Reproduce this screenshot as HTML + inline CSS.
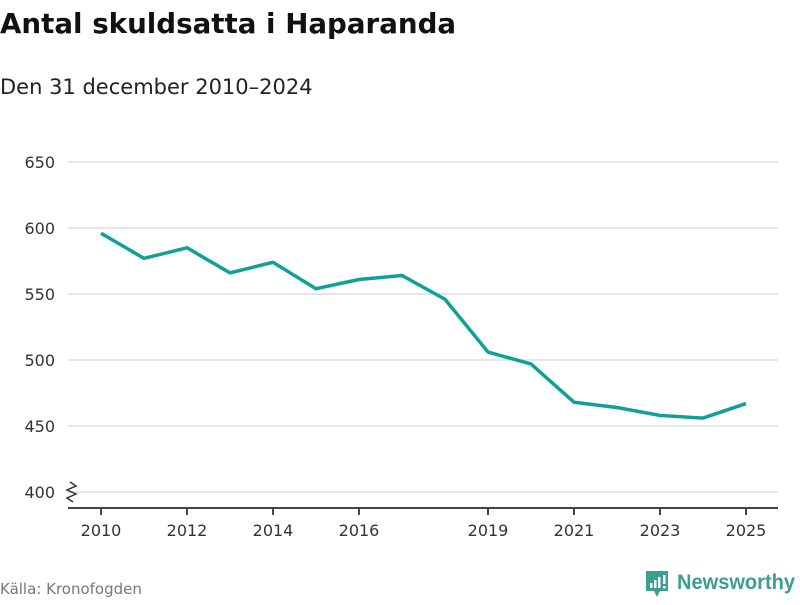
<!DOCTYPE html>
<html><head><meta charset="utf-8"><style>
body{margin:0;background:#fff;font-family:"Liberation Sans","DejaVu Sans",sans-serif;}
svg text{font-family:"DejaVu Sans","Liberation Sans",sans-serif;}
</style></head><body>
<svg id="chart" width="800" height="600">
<text x="0" y="33" font-size="27.7" font-weight="bold" fill="#111">Antal skuldsatta i Haparanda</text>
<text x="0" y="94" font-size="21" fill="#222">Den 31 december 2010–2024</text>
<g id="grid"></g><g id="xaxis"></g>
<path id="line" fill="none" stroke="#10a196" stroke-width="3.5" stroke-linejoin="round"/>
<path d="M70,482 l6,4 l-9,4 l9,4 l-9,4 l6,4" fill="none" stroke="#333" stroke-width="1.5"/>
<text x="0" y="594" font-size="15" fill="#777">Källa: Kronofogden</text>
<g>
<path d="M646,571 h22 v20 h-8 l-3,6 l-3,-6 h-8 z" fill="#3a9e90"/>
<rect x="650" y="583" width="2.5" height="5" fill="#fff"/><rect x="654" y="580" width="2.5" height="8" fill="#fff"/><rect x="658" y="577" width="2.5" height="11" fill="#fff"/><rect x="663" y="575" width="2.5" height="9" fill="#fff"/><rect x="663" y="586" width="2.5" height="2.5" fill="#fff"/>
<text x="677" y="589" font-size="21" font-weight="bold" fill="#3a9e90" style="font-family:'Liberation Sans',sans-serif" textLength="118" lengthAdjust="spacingAndGlyphs">Newsworthy</text>
</g>
</svg>
<script>
const years=[2010,2011,2012,2013,2014,2015,2016,2017,2018,2019,2020,2021,2022,2023,2024,2025];
const values=[596,577,585,566,574,554,561,564,546,506,497,468,464,458,456,467];
const yTicks=[400,450,500,550,600,650];
const xTicks=[2010,2012,2014,2016,2019,2021,2023,2025];
const NS="http://www.w3.org/2000/svg";
const x=v=>101+(v-2010)*43;
const y=v=>492-(v-400)*1.32;
const grid=document.getElementById('grid'),xa=document.getElementById('xaxis');
yTicks.forEach(t=>{
 const l=document.createElementNS(NS,'line');
 l.setAttribute('x1',68);l.setAttribute('x2',778);l.setAttribute('y1',y(t));l.setAttribute('y2',y(t));
 l.setAttribute('stroke','#ddd');l.setAttribute('stroke-width','1.5');
 
 
 grid.appendChild(l);
 const tx=document.createElementNS(NS,'text');
 tx.setAttribute('x',55);tx.setAttribute('y',y(t)+6);tx.setAttribute('text-anchor','end');
 tx.setAttribute('font-size','16');tx.setAttribute('fill','#333');tx.textContent=t;
 
 
 grid.appendChild(tx);
});
const ax=document.createElementNS(NS,'line');
ax.setAttribute('x1',68);ax.setAttribute('x2',778);ax.setAttribute('y1',508);ax.setAttribute('y2',508);
ax.setAttribute('stroke','#444');ax.setAttribute('stroke-width','2');


xa.appendChild(ax);
xTicks.forEach(t=>{
 const l=document.createElementNS(NS,'line');
 l.setAttribute('x1',x(t));l.setAttribute('x2',x(t));l.setAttribute('y1',508);l.setAttribute('y2',515);
 l.setAttribute('stroke','#444');l.setAttribute('stroke-width','2');
 
 
 xa.appendChild(l);
 const tx=document.createElementNS(NS,'text');
 tx.setAttribute('x',x(t));tx.setAttribute('y',536);tx.setAttribute('text-anchor','middle');
 tx.setAttribute('font-size','16');tx.setAttribute('fill','#333');tx.textContent=t;
 
 
 xa.appendChild(tx);
});
document.getElementById('line').setAttribute('d',values.map((v,i)=>(i?'L':'M')+x(years[i])+','+y(v)).join(' '));
</script>
</body></html>
